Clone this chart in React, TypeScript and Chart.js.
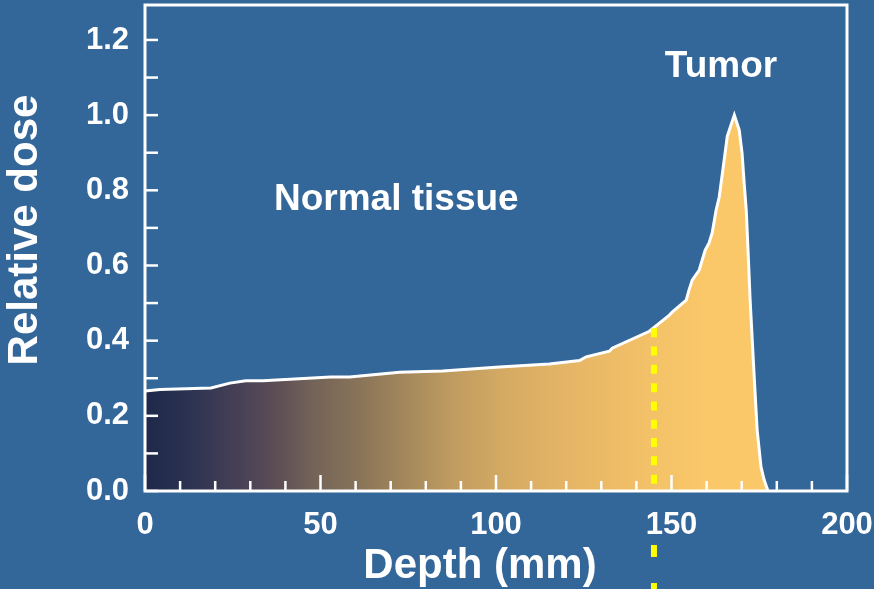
import React, { useEffect, useRef } from "react";
import { Chart, registerables } from "chart.js";

Chart.register(...registerables);

// ---- data ----
const depthMm = [
  0, 4.3, 18.8, 24.2, 28.7, 33.6, 52.9, 58.3, 72.5, 84.8, 101, 115.2, 123.8, 125.7,
  132.3, 133.1, 143.7, 149.4, 150.2, 154.2, 155.0, 155.9, 157.9, 159.6, 160.7, 161.6,
  162.7, 163.6, 165.0, 165.9, 167.9, 169.3, 170.1, 170.7, 171.3, 171.8, 172.4, 173.5,
  174.4, 175.5, 176.4, 177.5,
];
const relativeDose = [
  0.266, 0.27, 0.274, 0.287, 0.293, 0.293, 0.303, 0.303, 0.316, 0.319, 0.33, 0.338, 0.347,
  0.357, 0.372, 0.38, 0.425, 0.468, 0.476, 0.508, 0.535, 0.561, 0.588, 0.641, 0.66, 0.687,
  0.747, 0.782, 0.88, 0.944, 1.0, 0.96, 0.899, 0.819, 0.747, 0.641, 0.508, 0.314, 0.162,
  0.064, 0.029, 0.0,
];
const xTickValues = [0, 10, 20, 30, 40, 50, 60, 70, 80, 90, 100, 110, 120, 130, 140, 150, 160, 170, 180, 190, 200];
const xLabelValues = [0, 50, 100, 150, 200];
const yTickValues = [0, 0.1, 0.2, 0.3, 0.4, 0.5, 0.6, 0.7, 0.8, 0.9, 1.0, 1.1, 1.2];
const yLabelValues = [0, 0.2, 0.4, 0.6, 0.8, 1.0, 1.2];
const markerDepth = 145;
const markerDose = 0.433;
const gradientDepths = [0, 14, 28, 36, 49, 62, 75, 88, 102, 122, 142, 160, 200];
const gradientColors = [
  "#1e2849", "#2e3452", "#4a4256", "#5a4b55", "#756558", "#8b7558", "#a5895c",
  "#c09c60", "#d4aa63", "#e6b666", "#f2c067", "#fac869", "#fbc96a",
];

const BG = "#336699";
const FONT = '"Liberation Sans", Arial, sans-serif';

const zeroPad = (s: any) => {
  s.paddingTop = 0;
  s.paddingBottom = 0;
  s.paddingLeft = 0;
  s.paddingRight = 0;
};

const decorPlugin = {
  id: "decor",
  afterDatasetsDraw(chart: any) {
    const { ctx, chartArea, scales } = chart;
    const xs = scales.x;
    const ys = scales.y;
    ctx.save();
    ctx.strokeStyle = "#ffffff";
    ctx.lineWidth = 2.5;
    // inside x ticks
    xTickValues.forEach((v) => {
      const px = xs.getPixelForValue(v);
      const len = v % 50 === 0 ? 16 : 10;
      ctx.beginPath();
      ctx.moveTo(px, chartArea.bottom);
      ctx.lineTo(px, chartArea.bottom - len);
      ctx.stroke();
    });
    // inside y ticks
    yTickValues.forEach((v) => {
      const py = ys.getPixelForValue(v);
      ctx.beginPath();
      ctx.moveTo(chartArea.left, py);
      ctx.lineTo(chartArea.left + 13, py);
      ctx.stroke();
    });
    // frame
    ctx.lineWidth = 3;
    ctx.strokeRect(chartArea.left, chartArea.top, chartArea.right - chartArea.left, chartArea.bottom - chartArea.top);

    // yellow dashed marker
    const mx = xs.getPixelForValue(markerDepth);
    ctx.strokeStyle = "#ffff00";
    ctx.lineWidth = 6;
    ctx.setLineDash([9, 9.3]);
    ctx.beginPath();
    ctx.moveTo(mx, ys.getPixelForValue(markerDose));
    ctx.lineTo(mx, chartArea.bottom - 2);
    ctx.stroke();
    ctx.setLineDash([12, 26]);
    ctx.beginPath();
    ctx.moveTo(mx, chartArea.bottom + 54);
    ctx.lineTo(mx, chart.height);
    ctx.stroke();
    ctx.setLineDash([]);

    // annotation texts
    ctx.fillStyle = "#ffffff";
    ctx.textAlign = "center";
    ctx.textBaseline = "alphabetic";
    ctx.font = `bold 37px ${FONT}`;
    ctx.fillText("Normal tissue", xs.getPixelForValue(71.6), ys.getPixelForValue(0.747));
    ctx.fillText("Tumor", xs.getPixelForValue(164.1), ys.getPixelForValue(1.101));

    // axis titles
    ctx.font = `bold 42px ${FONT}`;
    ctx.fillText("Depth (mm)", 480, chart.height - 11);
    ctx.save();
    ctx.translate(37, 230);
    ctx.rotate(-Math.PI / 2);
    ctx.fillText("Relative dose", 0, 0);
    ctx.restore();
    ctx.restore();
  },
};

export default function App() {
  const canvasRef = useRef<HTMLCanvasElement | null>(null);

  useEffect(() => {
    document.body.style.margin = "0";
    document.body.style.background = BG;
    const canvas = canvasRef.current;
    if (!canvas) return;
    const points = depthMm.map((d, i) => ({ x: d, y: relativeDose[i] }));
    const chart = new Chart(canvas, {
      type: "line",
      data: {
        datasets: [
          {
            data: points,
            borderColor: "#ffffff",
            borderWidth: 3,
            pointRadius: 0,
            tension: 0,
            fill: "origin",
            backgroundColor: (c: any) => {
              const ch = c.chart;
              const { ctx, chartArea, scales } = ch;
              if (!chartArea || !scales.x) return gradientColors[gradientColors.length - 1];
              const x0 = scales.x.getPixelForValue(0);
              const x1 = scales.x.getPixelForValue(200);
              const g = ctx.createLinearGradient(x0, 0, x1, 0);
              gradientDepths.forEach((d, i) => g.addColorStop(d / 200, gradientColors[i]));
              return g;
            },
          },
        ],
      },
      options: {
        animation: false,
        responsive: true,
        maintainAspectRatio: false,
        layout: { padding: { top: 5, right: 27, left: 0, bottom: 0 } },
        plugins: { legend: { display: false }, tooltip: { enabled: false } },
        scales: {
          x: {
            type: "linear",
            min: 0,
            max: 200,
            afterFit: (s: any) => {
              s.height = 98;
              zeroPad(s);
            },
            afterBuildTicks: (s: any) => {
              s.ticks = xLabelValues.map((v) => ({ value: v }));
            },
            grid: { display: false, drawTicks: false },
            border: { display: false },
            ticks: {
              color: "#ffffff",
              padding: 16,
              maxRotation: 0,
              autoSkip: false,
              font: { family: FONT, size: 31, weight: "bold" },
              callback: (v: any) => String(v),
            },
          },
          y: {
            type: "linear",
            min: 0,
            max: 1.293,
            afterFit: (s: any) => {
              s.width = 145;
              zeroPad(s);
            },
            afterBuildTicks: (s: any) => {
              s.ticks = yLabelValues.map((v) => ({ value: v }));
            },
            grid: { display: false, drawTicks: false },
            border: { display: false },
            ticks: {
              color: "#ffffff",
              padding: 16,
              autoSkip: false,
              font: { family: FONT, size: 31, weight: "bold" },
              callback: (v: any) => Number(v).toFixed(1),
            },
          },
        },
      },
      plugins: [decorPlugin],
    });
    return () => chart.destroy();
  }, []);

  return (
    <div style={{ width: 874, height: 589, background: BG, position: "relative" }}>
      <canvas ref={canvasRef} />
    </div>
  );
}
